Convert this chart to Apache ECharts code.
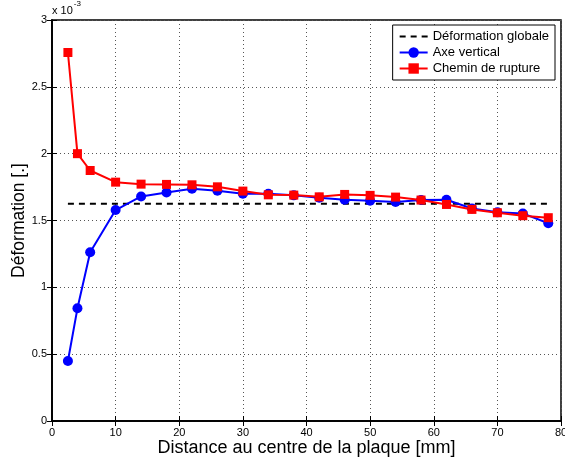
<!DOCTYPE html>
<html><head><meta charset="utf-8">
<script src="https://cdn.jsdelivr.net/npm/echarts@6/dist/echarts.min.js"></script>
<style>html,body{margin:0;padding:0;background:#fff}#c{width:565px;height:463px}</style>
</head><body><div id="c"></div>
<script>
// x positions [mm]
const distances = [2.5, 4, 6, 10, 14, 18, 22, 26, 30, 34, 38, 42, 46, 50, 54, 58, 62, 66, 70, 74, 78];
// strain values in units of 1e-3
const axeVertical = [0.449, 0.843, 1.263, 1.578, 1.68, 1.71, 1.737, 1.722, 1.70, 1.70, 1.688, 1.67, 1.655, 1.648, 1.638, 1.653, 1.655, 1.59, 1.561, 1.553, 1.479];
const cheminRupture = [2.757, 2.0, 1.874, 1.787, 1.772, 1.77, 1.767, 1.752, 1.72, 1.692, 1.69, 1.677, 1.695, 1.688, 1.675, 1.653, 1.62, 1.583, 1.558, 1.536, 1.521];
const globalStrain = 1.625;
const globalRange = [2.5, 78];
const xTicks = [0, 10, 20, 30, 40, 50, 60, 70, 80];
const yTicks = [0, 0.5, 1, 1.5, 2, 2.5, 3];

const font = 'Liberation Sans, Arial, Helvetica, sans-serif';
const chart = echarts.init(document.getElementById('c'));
const xBase = {type:'value', min:xTicks[0], max:xTicks[xTicks.length-1], interval:10};
const yBase = {type:'value', min:yTicks[0], max:yTicks[yTicks.length-1], interval:0.5};
chart.setOption({
  animation:false,
  backgroundColor:'#fff',
  grid:{left:52, right:4, top:20, bottom:42, outerBoundsMode:'none', containLabel:false,
        show:true, borderColor:'#000', borderWidth:1.5},
  xAxis:[
    Object.assign({}, xBase, {position:'bottom',
      name:'Distance au centre de la plaque [mm]', nameLocation:'middle', nameGap:18, nameMoveOverlap:false,
      nameTextStyle:{fontFamily:font, fontSize:18, color:'#000'},
      axisLine:{show:true, lineStyle:{color:'#000', width:1.5}},
      axisTick:{show:true, inside:true, length:5, lineStyle:{color:'#000'}},
      axisLabel:{fontFamily:font, fontSize:11, color:'#000', margin:6, showMaxLabel:true},
      splitLine:{show:true, lineStyle:{color:'#555', type:[1,3], width:1}}}),
    Object.assign({}, xBase, {position:'top',
      axisLine:{show:true, lineStyle:{color:'#000', width:1.5}},
      axisTick:{show:true, inside:true, length:5, lineStyle:{color:'#000'}},
      axisLabel:{show:false}, splitLine:{show:false}})
  ],
  yAxis:[
    Object.assign({}, yBase, {position:'left',
      name:'Déformation [.]', nameLocation:'middle', nameGap:24, nameRotate:90, nameMoveOverlap:false,
      nameTextStyle:{fontFamily:font, fontSize:17.5, color:'#000'},
      axisLine:{show:true, lineStyle:{color:'#000', width:1.5}},
      axisTick:{show:true, inside:true, length:5, lineStyle:{color:'#000'}},
      axisLabel:{fontFamily:font, fontSize:11, color:'#000', margin:5},
      splitLine:{show:true, lineStyle:{color:'#555', type:[1,3], width:1}}}),
    Object.assign({}, yBase, {position:'right',
      axisLine:{show:true, lineStyle:{color:'#000', width:1.5}},
      axisTick:{show:true, inside:true, length:5, lineStyle:{color:'#000'}},
      axisLabel:{show:false}, splitLine:{show:false}})
  ],
  legend:{
    orient:'vertical', right:10, top:25, padding:[5,6,5,6], itemGap:3,
    itemWidth:28, itemHeight:13,
    backgroundColor:'#fff', borderColor:'#000', borderWidth:1,
    textStyle:{fontFamily:font, fontSize:13, color:'#000'},
    data:[
      {name:'Déformation globale', itemStyle:{color:'rgba(0,0,0,0)', borderWidth:0}},
      'Axe vertical','Chemin de rupture']
  },
  graphic:[{type:'text', left:52, top:0, style:{
    text:'{a|x 10}{b|-3}', fill:'#000',
    rich:{a:{fontFamily:font, fontSize:11, padding:[5,0,0,0]}, b:{fontFamily:font, fontSize:8, verticalAlign:'top', padding:[0,0,6,1]}}}}],
  series:[
    {name:'Déformation globale', type:'line', symbol:'none',
     data:globalRange.map(x=>[x, globalStrain]),
     lineStyle:{color:'#000', width:2, type:[6,5]}, itemStyle:{color:'#000'}, z:1},
    {name:'Axe vertical', type:'line', symbol:'circle', symbolSize:10,
     data:distances.map((x,i)=>[x, axeVertical[i]]),
     lineStyle:{color:'#0000ff', width:2}, itemStyle:{color:'#0000ff'}, z:2},
    {name:'Chemin de rupture', type:'line', symbol:'rect', symbolSize:9,
     data:distances.map((x,i)=>[x, cheminRupture[i]]),
     lineStyle:{color:'#ff0000', width:2}, itemStyle:{color:'#ff0000'}, z:3}
  ]
});
</script></body></html>
